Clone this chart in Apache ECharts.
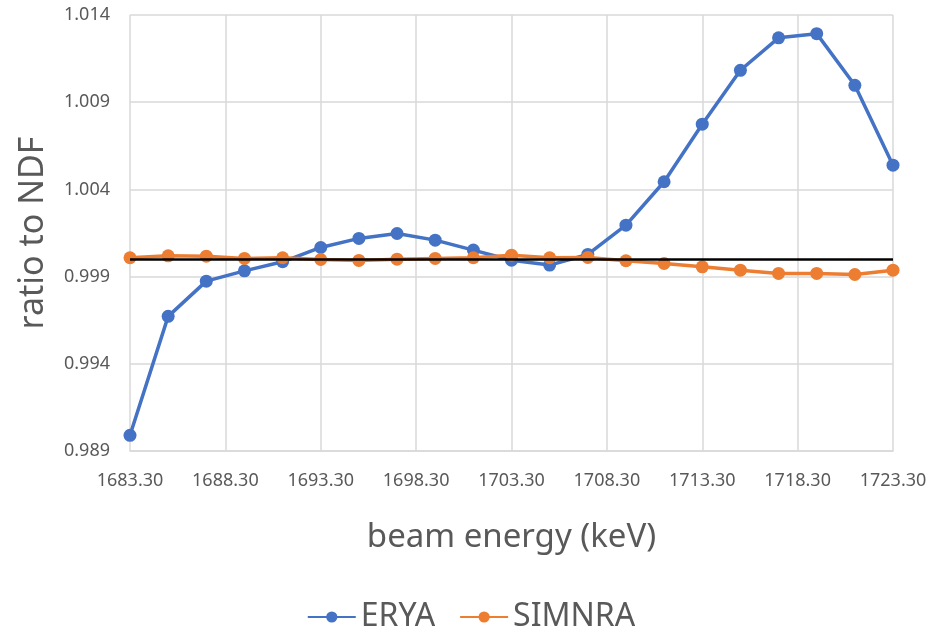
<!DOCTYPE html>
<html>
<head>
<meta charset="utf-8">
<script src="https://cdn.jsdelivr.net/npm/echarts@6/dist/echarts.min.js"></script>
<style>
  html, body { margin: 0; padding: 0; background: #fff; }
  #chart { width: 942px; height: 640px; }
</style>
</head>
<body>
<div id="chart"></div>
<script>
  // beam energies (keV), step 2 keV
  var energies = [1683.3, 1685.3, 1687.3, 1689.3, 1691.3, 1693.3, 1695.3, 1697.3, 1699.3, 1701.3,
    1703.3, 1705.3, 1707.3, 1709.3, 1711.3, 1713.3, 1715.3, 1717.3, 1719.3, 1721.3, 1723.3];
  var eryaValues = [0.9899, 0.99672, 0.99874, 0.99933, 0.99985, 1.00067, 1.00119, 1.00147, 1.00109, 1.00052,
    0.99994, 0.99966, 1.00027, 1.00195, 1.00444, 1.00774, 1.01083, 1.01269, 1.01293, 1.00997, 1.00539];
  var simnraValues = [1.00008, 1.00019, 1.00017, 1.00004, 1.00008, 0.99998, 0.99993, 1.0, 1.00004, 1.00008,
    1.00023, 1.00008, 1.0001, 0.99991, 0.99975, 0.99956, 0.99937, 0.99918, 0.99918, 0.99912, 0.99937];
  var refLevel = 1.0;

  function pairs(xs, ys) {
    var out = [];
    for (var i = 0; i < xs.length; i++) out.push([xs[i], ys[i]]);
    return out;
  }

  var myChart = echarts.init(document.getElementById('chart'));
  var textColor = '#595959';
  var gridColor = '#d9d9d9';
  var font = '"Noto Sans", sans-serif';

  var option = {
    backgroundColor: '#fff',
    animation: false,
    grid: { left: 130, right: 49, top: 15, bottom: 189 },
    legend: {
      top: 596,
      left: 'center',
      itemWidth: 48,
      itemHeight: 14,
      itemGap: 24,
      data: ['ERYA', 'SIMNRA'],
      textStyle: { color: textColor, fontSize: 32, fontFamily: font }
    },
    xAxis: {
      type: 'value',
      min: 1683.3,
      max: 1723.3,
      interval: 5,
      name: 'beam energy (keV)',
      nameLocation: 'middle',
      nameGap: 70,
      nameTextStyle: { color: textColor, fontSize: 33, fontFamily: font },
      axisLine: { show: true, lineStyle: { color: gridColor, width: 1.5 } },
      axisTick: { show: false },
      axisLabel: {
        color: textColor, fontSize: 18, fontFamily: font, margin: 21,
        formatter: function (v) { return v.toFixed(2); }
      },
      splitLine: { show: true, lineStyle: { color: gridColor, width: 1.5 } }
    },
    yAxis: {
      type: 'value',
      min: 0.989,
      max: 1.014,
      interval: 0.005,
      name: 'ratio to NDF',
      nameLocation: 'middle',
      nameGap: 80,
      nameTextStyle: { color: textColor, fontSize: 34, fontFamily: font },
      axisLine: { show: false },
      axisTick: { show: false },
      axisLabel: {
        color: textColor, fontSize: 18, fontFamily: font, margin: 20,
        formatter: function (v) { return v.toFixed(3); }
      },
      splitLine: { show: true, lineStyle: { color: gridColor, width: 1.5 } }
    },
    series: [
      {
        name: 'ERYA',
        type: 'line',
        data: pairs(energies, eryaValues),
        symbol: 'circle',
        symbolSize: 13,
        color: '#4472c4',
        lineStyle: { width: 3.5, color: '#4472c4' },
        itemStyle: { color: '#4472c4' }
      },
      {
        name: 'SIMNRA',
        type: 'line',
        data: pairs(energies, simnraValues),
        symbol: 'circle',
        symbolSize: 13,
        color: '#ed7d31',
        lineStyle: { width: 3.5, color: '#ed7d31' },
        itemStyle: { color: '#ed7d31' },
        markLine: {
          silent: true,
          symbol: 'none',
          label: { show: false },
          lineStyle: { color: '#000', width: 2.5, type: 'solid' },
          data: [{ yAxis: refLevel }]
        }
      }
    ]
  };

  myChart.setOption(option);
</script>
</body>
</html>
